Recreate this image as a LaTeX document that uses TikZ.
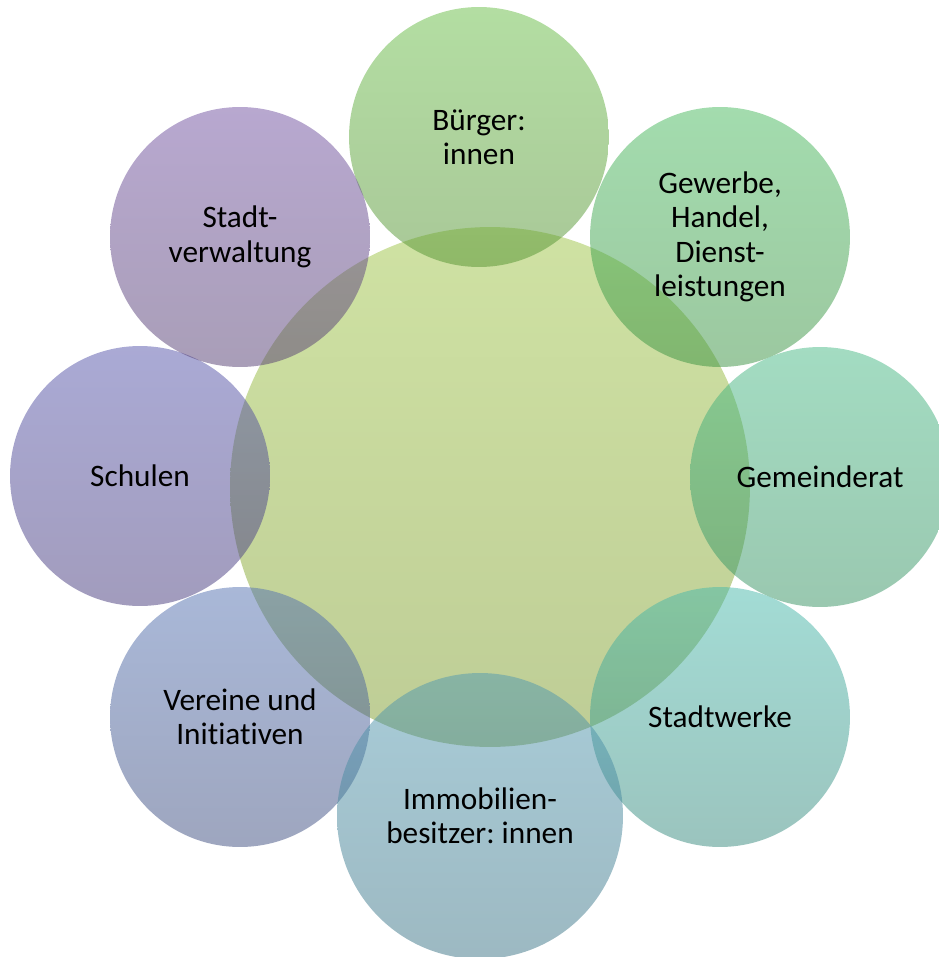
\documentclass[tikz,border=0pt]{standalone}
\usepackage{fontspec}
\setmainfont{Carlito}[Ligatures=NoCommon]
\frenchspacing
% base colours of the translucent discs (top / bottom of each gradient)
\definecolor{ctrT}{RGB}{159,197,71}
\definecolor{ctrB}{RGB}{125,155,45}
\definecolor{buergT}{RGB}{103,189,69}
\definecolor{buergB}{RGB}{83,145,49}
\definecolor{gewT}{RGB}{71,185,93}
\definecolor{gewB}{RGB}{57,145,65}
\definecolor{gemT}{RGB}{71,185,133}
\definecolor{gemB}{RGB}{53,145,97}
\definecolor{swT}{RGB}{71,185,171}
\definecolor{swB}{RGB}{55,137,125}
\definecolor{immoT}{RGB}{81,153,177}
\definecolor{immoB}{RGB}{59,115,133}
\definecolor{verT}{RGB}{83,113,177}
\definecolor{verB}{RGB}{61,77,127}
\definecolor{schT}{RGB}{85,85,171}
\definecolor{schB}{RGB}{69,57,123}
\definecolor{stvT}{RGB}{113,81,161}
\definecolor{stvB}{RGB}{83,61,113}
\tikzset{
  disc/.style={circle, inner sep=0pt, outer sep=0pt, minimum size=5.2cm,
    fill opacity=0.5, text opacity=1, align=center,
    font=\fontsize{17.8}{19.6}\selectfont},
  tone/.style 2 args={top color=#1, bottom color=#2},
}
\begin{document}
\begin{tikzpicture}[x=0.02cm, y=-0.02cm]
  \useasboundingbox (0,0) rectangle (939,957);
  \clip (0,0) rectangle (939,957);
  % central disc
  \node[disc, minimum size=10.4cm, tone={ctrT}{ctrB}] (hub) at (490,487) {};
  % surrounding stakeholder discs
  \node[disc, tone={buergT}{buergB}] (buerger) at (479,137) {Bürger:\\innen};
  \node[disc, tone={gewT}{gewB}] (gewerbe) at (720,237) {Gewerbe,\\Handel,\\Dienst-\\leistungen};
  \node[disc, tone={gemT}{gemB}] (rat) at (820,477) {Gemeinderat};
  \node[disc, tone={swT}{swB}] (werke) at (720,717) {Stadtwerke};
  \node[disc, tone={verT}{verB}] (vereine) at (240,717) {Vereine und\\Initiativen};
  \node[disc, tone={schT}{schB}] (schulen) at (140,476) {Schulen};
  \node[disc, tone={stvT}{stvB}] (verwaltung) at (240,237) {Stadt-\\verwaltung};
  \node[disc, minimum size=5.72cm, tone={immoT}{immoB}] (immo) at (480,816) {Immobilien-\\besitzer: innen};
\end{tikzpicture}
\end{document}
